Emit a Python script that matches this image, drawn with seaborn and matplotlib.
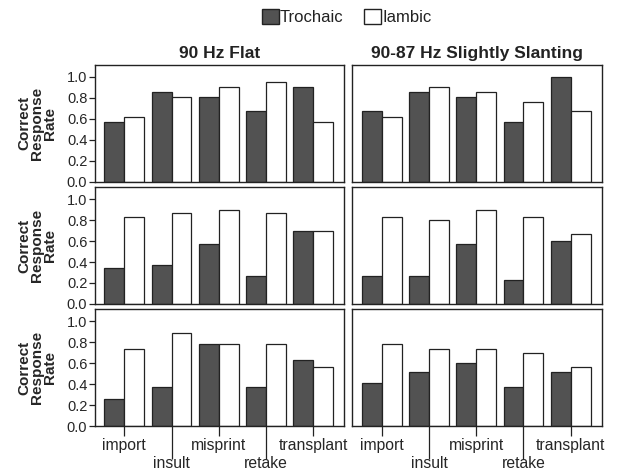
import numpy as np
import pandas as pd
import matplotlib
matplotlib.use("Agg")
import matplotlib.pyplot as plt
import seaborn as sns
from matplotlib.patches import Patch

words = ['import', 'insult', 'misprint', 'retake', 'transplant']
stress = ['Trochaic', 'Iambic']
languages = ['English', 'Japanese', 'Korean']
conditions = ['90 Hz Flat', '90-87 Hz Slightly Slanting']

# correct response rates: [trochaic, iambic] per word
english_flat = [[0.57, 0.62], [0.86, 0.81], [0.81, 0.90], [0.67, 0.95], [0.90, 0.57]]
english_slant = [[0.67, 0.62], [0.86, 0.90], [0.81, 0.86], [0.57, 0.76], [1.00, 0.67]]
japanese_flat = [[0.34, 0.83], [0.37, 0.87], [0.57, 0.90], [0.27, 0.87], [0.70, 0.70]]
japanese_slant = [[0.27, 0.83], [0.27, 0.80], [0.57, 0.90], [0.23, 0.83], [0.60, 0.67]]
korean_flat = [[0.26, 0.74], [0.37, 0.89], [0.78, 0.78], [0.37, 0.78], [0.63, 0.56]]
korean_slant = [[0.41, 0.78], [0.52, 0.74], [0.60, 0.74], [0.37, 0.70], [0.52, 0.56]]

values = {
    ('English', '90 Hz Flat'): english_flat,
    ('English', '90-87 Hz Slightly Slanting'): english_slant,
    ('Japanese', '90 Hz Flat'): japanese_flat,
    ('Japanese', '90-87 Hz Slightly Slanting'): japanese_slant,
    ('Korean', '90 Hz Flat'): korean_flat,
    ('Korean', '90-87 Hz Slightly Slanting'): korean_slant,
}

rows = []
for (lang, cond), vals in values.items():
    for w, pair in zip(words, vals):
        for s, v in zip(stress, pair):
            rows.append({'language': lang, 'condition': cond, 'word': w, 'stress': s, 'rate': v})
df = pd.DataFrame(rows)

sns.set_style('white')
plt.rcParams['font.family'] = ['Liberation Sans', 'DejaVu Sans']
plt.rcParams['text.color'] = '#222222'

palette = {'Trochaic': '#525252', 'Iambic': 'white'}
ink = '#222222'

fig, axes = plt.subplots(3, 2, figsize=(6.25, 4.73), dpi=100, sharey=True)
fig.subplots_adjust(left=0.152, right=0.963, top=0.863, bottom=0.099, wspace=0.032, hspace=0.045)

for i, lang in enumerate(languages):
    for j, cond in enumerate(conditions):
        ax = axes[i, j]
        sub = df[(df.language == lang) & (df.condition == cond)]
        sns.barplot(data=sub, x='word', y='rate', hue='stress', hue_order=stress,
                    order=words, palette=palette, width=0.84, edgecolor=ink,
                    linewidth=0.9, legend=False, ax=ax)
        ax.set_xlim(-0.62, 4.66)
        ax.set_ylim(0, 1.115)
        ax.set_xlabel('')
        ax.set_ylabel('')
        for sp in ax.spines.values():
            sp.set_visible(True)
            sp.set_color(ink)
            sp.set_linewidth(1.0)
        ax.tick_params(axis='y', direction='out', length=4, width=0.9, color=ink,
                       labelsize=10.5, pad=1.5, left=(j == 0), labelleft=(j == 0))
        ax.set_yticks([0.0, 0.2, 0.4, 0.6, 0.8, 1.0])
        if j == 0:
            ax.set_yticklabels(['0.0', '0.2', '0.4', '0.6', '0.8', '1.0'])
            ax.set_ylabel('Correct\nResponse\nRate', fontsize=11, fontweight='bold',
                          linespacing=0.9, labelpad=7)
        if i == 2:
            ax.set_xticks(range(len(words)))
            ax.set_xticklabels(words, fontsize=11.3)
            ax.tick_params(axis='x', direction='out', length=7, width=0.9, color=ink,
                           bottom=True, pad=1.5)
            # staggered labels: every other word sits one line lower on a longer tick
            for k, t in enumerate(ax.xaxis.get_major_ticks()):
                if k % 2 == 1:
                    t.set_pad(14.5)
                    t.tick1line.set_markersize(24)
        else:
            ax.set_xticks([])
        if i == 0:
            ax.set_title(cond, fontsize=12.5, fontweight='bold', pad=5)
        if j == 1:
            ax.yaxis.set_label_position('right')
            ax.set_ylabel(lang, fontsize=13.5, fontweight='bold', rotation=-90, labelpad=16)

handles = [Patch(facecolor=palette[s], edgecolor=ink, label=s) for s in stress]
fig.legend(handles=handles, loc='upper center', bbox_to_anchor=(0.555, 1.012), ncol=2,
           frameon=False, fontsize=12, handlelength=1.0, handleheight=1.0,
           handletextpad=0.08, columnspacing=1.25)

fig.savefig('out.png', dpi=100)
